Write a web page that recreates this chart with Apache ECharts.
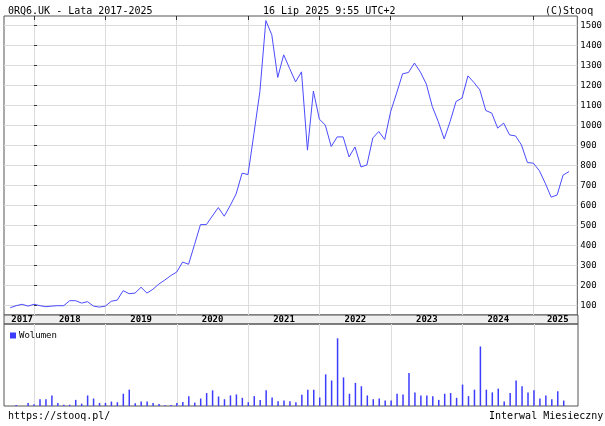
<!DOCTYPE html>
<html>
<head>
<meta charset="UTF-8">
<title>0RQ6.UK</title>
<script src="https://cdn.jsdelivr.net/npm/echarts@6/dist/echarts.min.js"></script>
<style>
  body{margin:0;background:#fff;}
  #main{width:605px;height:426px;}
</style>
</head>
<body>
<div id="main"></div>
<script>
// months counted from Jan 2018 (= 0); Sep 2017 = -4, Jul 2025 = 90
var startMonth = -4;
var prices = [90,100,107,98, 107,100,95,98,100,100,125,125,113,120,98,93,
  98,122,128,175,160,163,192,163,182,208,228,250,
  268,318,307,405,505,505,548,590,547,600,658,762,
  755,960,1170,1524,1453,1240,1353,1285,1218,1268,877,1172,
  1032,1002,895,943,943,843,893,793,803,938,970,930,
  1070,1162,1258,1265,1312,1267,1207,1095,1020,933,1020,1120,
  1137,1248,1215,1178,1075,1062,987,1012,953,948,903,815,
  812,775,712,642,653,752,770];
var volumes = [0,3,0,9,5,20,20,31,9,4,4,18,7,31,22,9,9,13,11,36,48,8,13,13,9,6,2,3,9,12,29,10,22,
  38,46,28,20,31,34,24,11,29,18,46,25,14,16,14,11,33,48,48,25,93,75,199,84,36,68,58,31,20,22,
  16,16,36,34,97,40,31,31,29,18,36,38,24,63,29,48,175,48,40,51,13,38,75,58,40,46,22,31,20,43,16];
var yearTicks = [0,12,24,36,48,60,72,84];
var yearLabelPos = [-2,6,18,30,42,54,66,78,88];
var priceTicks = [100,200,300,400,500,600,700,800,900,1000,1100,1200,1300,1400,1500];

var priceData = prices.map(function(v,i){return [startMonth+i,v];});
var volData = volumes.map(function(v,i){return [startMonth+i,v];});

var mono = 'DejaVu Sans Mono';
var xMin = -5.05, xMax = 91.4;
var gridLine = {show:true,lineStyle:{color:'#dcdcdc',width:1}};

var myChart = echarts.init(document.getElementById('main'));
var option = {
  backgroundColor:'#fff',
  animation:false,
  textStyle:{fontFamily:mono},
  title:[
    {text:'0RQ6.UK - Lata 2017-2025',left:3,top:1,textStyle:{fontFamily:mono,fontSize:10,fontWeight:'normal',color:'#000'}},
    {text:'16 Lip 2025 9:55 UTC+2',left:258,top:1,textStyle:{fontFamily:mono,fontSize:10,fontWeight:'normal',color:'#000'}},
    {text:'(C)Stooq',left:540,top:1,textStyle:{fontFamily:mono,fontSize:10,fontWeight:'normal',color:'#000'}},
    {text:'https://stooq.pl/',left:3,top:406,textStyle:{fontFamily:mono,fontSize:10,fontWeight:'normal',color:'#000'}},
    {text:'Interwal Miesieczny',left:484,top:406,textStyle:{fontFamily:mono,fontSize:10,fontWeight:'normal',color:'#000'}}
  ],
  legend:{data:['Wolumen'],left:5,top:326,itemWidth:6,itemHeight:6,itemGap:2,icon:'rect',
    textStyle:{fontFamily:mono,fontSize:9,color:'#000',padding:[0,0,0,-2]}},
  grid:[
    {left:4,right:27,top:16,height:299,show:true,borderColor:'#555',borderWidth:1},
    {left:4,right:27,top:315,height:9,show:true,backgroundColor:'#efefef',borderColor:'#555',borderWidth:1},
    {left:4,right:27,top:324,height:82,show:true,borderColor:'#555',borderWidth:1}
  ],
  xAxis:[
    {type:'value',gridIndex:0,min:xMin,max:xMax,position:'top',
      axisLine:{show:false},axisLabel:{show:false},
      axisTick:{show:true,inside:true,length:4,customValues:yearTicks,lineStyle:{color:'#333'}},
      splitLine:gridLine},
    {type:'value',gridIndex:1,min:xMin,max:xMax,position:'top',axisLine:{show:false},axisTick:{show:false},splitLine:{show:false},
      axisLabel:{inside:true,margin:0,verticalAlign:'top',customValues:yearLabelPos,fontFamily:mono,fontSize:9,fontWeight:'bold',color:'#000',
        formatter:function(v){return String(Math.floor(v/12)+2018);}}},
    {type:'value',gridIndex:2,min:xMin,max:xMax,axisLine:{show:false},axisLabel:{show:false},
      axisTick:{show:false,customValues:yearTicks},splitLine:gridLine}
  ],
  yAxis:[
    {type:'value',gridIndex:0,position:'right',min:53.5,max:1547,
      axisLine:{show:false},
      axisTick:{show:true,length:3,customValues:priceTicks,lineStyle:{color:'#333'}},
      axisLabel:{customValues:priceTicks,fontFamily:mono,fontSize:9,color:'#000',margin:3,
        formatter:function(v){return String(v);}},
      splitLine:gridLine},
    {type:'value',gridIndex:1,show:false},
    {type:'value',gridIndex:2,min:0,max:241,show:false}
  ],
  series:[
    {name:'Kurs',type:'line',xAxisIndex:0,yAxisIndex:0,data:priceData,showSymbol:false,
      lineStyle:{color:'#4b4bff',width:1},itemStyle:{color:'#4b4bff'}},
    {name:'Wolumen',type:'bar',xAxisIndex:2,yAxisIndex:2,data:volData,barWidth:1.5,
      itemStyle:{color:'#3c3cff'}}
  ]
};
myChart.setOption(option);
</script>
</body>
</html>
